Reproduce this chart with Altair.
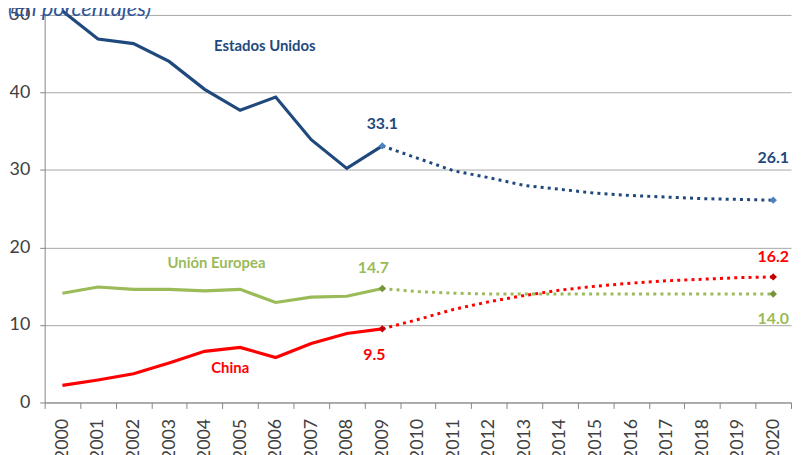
import altair as alt
import pandas as pd

years = list(range(2000, 2021))
hist_years = list(range(2000, 2010))
proj_years = list(range(2009, 2021))

series_names = ["Estados Unidos", "Unión Europea", "China"]
line_colors = ["#1F497D", "#9BBB59", "#FF0000"]
marker_colors = ["#4F81BD", "#77933C", "#C00000"]

us_hist = [50.5, 46.9, 46.3, 44.0, 40.4, 37.7, 39.4, 33.9, 30.2, 33.1]
us_proj = [33.1, 31.5, 29.9, 29.0, 28.0, 27.5, 27.0, 26.7, 26.5, 26.3, 26.2, 26.1]
eu_hist = [14.1, 14.9, 14.6, 14.6, 14.4, 14.6, 12.9, 13.6, 13.7, 14.7]
eu_proj = [14.7, 14.3, 14.1, 14.0, 14.0, 14.0, 14.0, 14.0, 14.0, 14.0, 14.0, 14.0]
cn_hist = [2.2, 2.9, 3.7, 5.1, 6.6, 7.1, 5.8, 7.6, 8.9, 9.5]
cn_proj = [9.5, 10.7, 12.0, 13.0, 13.8, 14.5, 15.0, 15.4, 15.7, 15.9, 16.1, 16.2]

title_text = "(En porcentajes)"
FONT = "Lato"

hist = [us_hist, eu_hist, cn_hist]
proj = [us_proj, eu_proj, cn_proj]

hist_rows, proj_rows, mark_rows = [], [], []
for i, name in enumerate(series_names):
    for y, v in zip(hist_years, hist[i]):
        hist_rows.append({"series": name, "year": y, "value": v, "color": line_colors[i]})
    for y, v in zip(proj_years, proj[i]):
        proj_rows.append({"series": name, "year": y, "value": v, "color": line_colors[i]})
    mark_rows.append({"series": name, "year": 2009, "value": hist[i][-1], "color": marker_colors[i]})
    mark_rows.append({"series": name, "year": 2020, "value": proj[i][-1], "color": marker_colors[i]})

df_hist = pd.DataFrame(hist_rows)
df_proj = pd.DataFrame(proj_rows)
df_mark = pd.DataFrame(mark_rows)

xaxis = alt.Axis(
    title=None, grid=False, tickBand="extent", labelAngle=270, labelPadding=10,
    labelFont=FONT, labelFontSize=18, labelColor="#404040", domainColor="#868686",
    tickColor="#868686", tickSize=6, labelOverlap=False,
)
yaxis = alt.Axis(
    title=None, values=[0, 10, 20, 30, 40, 50], grid=True, gridColor="#A6A6A6",
    domainColor="#868686", tickColor="#868686", tickSize=5, labelPadding=10,
    labelFont=FONT, labelFontSize=18, labelColor="#404040",
)


def X():
    return alt.X("year:O", scale=alt.Scale(type="band", paddingInner=0, paddingOuter=0, domain=years),
                 bandPosition=0.5, axis=xaxis)


def Y(field="value"):
    return alt.Y(f"{field}:Q", scale=alt.Scale(domain=[0, 50], nice=False), axis=yaxis)


hist_layer = alt.Chart(df_hist).mark_line(strokeWidth=3.2).encode(
    x=X(), y=Y(), color=alt.Color("color:N", scale=None), detail="series:N"
)
proj_layer = alt.Chart(df_proj).mark_line(strokeWidth=3, strokeDash=[3, 4.2]).encode(
    x=X(), y=Y(), color=alt.Color("color:N", scale=None), detail="series:N"
)
marker_layer = alt.Chart(df_mark).mark_point(shape="diamond", filled=True, size=55, opacity=1).encode(
    x=X(), y=Y(), color=alt.Color("color:N", scale=None)
)

layers = [hist_layer, proj_layer, marker_layer]

# series name labels: (name, anchor year, anchor value, dx)
name_labels = [
    (series_names[0], 2006, 46.0, -11, line_colors[0]),
    (series_names[1], 2004, 18.0, 12, line_colors[1]),
    (series_names[2], 2005, 4.5, -10, line_colors[2]),
]
for text, yr, val, dx, col in name_labels:
    d = pd.DataFrame({"year": [yr], "value": [val], "text": [text]})
    layers.append(
        alt.Chart(d).mark_text(font=FONT, fontSize=15, fontWeight="bold", color=col, dx=dx,
                               align="center", baseline="middle").encode(x=X(), y=Y(), text="text:N")
    )

# value labels: (series index, year, value, offset in data units, dx)
value_labels = [
    (0, 2009, us_hist[-1], 2.8, 0),
    (0, 2020, us_proj[-1], 5.5, 0),
    (1, 2009, eu_hist[-1], 2.7, -9),
    (1, 2020, eu_proj[-1], -3.3, 0),
    (2, 2009, cn_hist[-1], -3.4, -8),
    (2, 2020, cn_proj[-1], 2.6, 0),
]
for si, yr, val, off, dx in value_labels:
    d = pd.DataFrame({"year": [yr], "value": [val + off], "text": [f"{val:.1f}"]})
    layers.append(
        alt.Chart(d).mark_text(font=FONT, fontSize=16, fontWeight="bold", color=line_colors[si], dx=dx,
                               align="center", baseline="middle").encode(x=X(), y=Y(), text="text:N")
    )

title_layer = alt.Chart(pd.DataFrame({"t": [title_text]})).mark_text(
    font=FONT, fontSize=22, fontStyle="italic", color="#2F5597", align="left", baseline="alphabetic"
).encode(x=alt.value(-37), y=alt.value(1), text="t:N")
layers.append(title_layer)

chart = alt.layer(*layers).properties(
    width=753, height=391,
    autosize=alt.AutoSizeParams(type="none"),
    padding={"left": 37, "top": 5, "right": 2, "bottom": 51},
).configure_view(strokeWidth=0)

chart.save("out.html", embed_options={"renderer": "svg", "actions": False})
